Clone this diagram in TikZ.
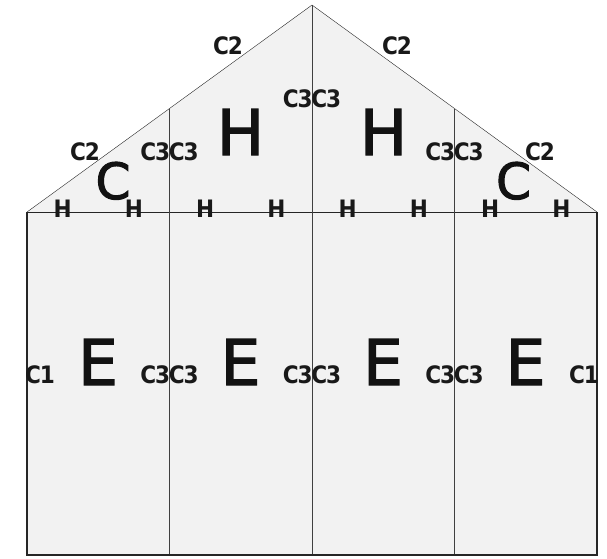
\documentclass[tikz,border=0pt]{standalone}
\usepackage{fontspec}
\setmainfont{DejaVu Sans}
\newfontfamily\tagfont[LetterSpace=-5]{DejaVu Sans Condensed}
\newfontfamily\zonefont[FakeBold=2]{DejaVu Sans}
\usepackage{tikz}
\usetikzlibrary{calc}

\begin{document}
\begin{tikzpicture}[x=1pt,y=-1pt]
  \tikzstyle{tag}=[inner sep=0pt,anchor=base,text=black!90,font=\tagfont\bfseries\fontsize{24pt}{24pt}\selectfont]
  \tikzstyle{zone}=[inner sep=0pt,anchor=base,text=black!93,font=\zonefont\fontsize{63pt}{63pt}\selectfont]
  \tikzstyle{gable}=[inner sep=0pt,anchor=base,text=black!93,font=\zonefont\fontsize{50pt}{50pt}\selectfont]
  \useasboundingbox (0,0) rectangle (607,558);

  \coordinate (BL) at (27,555);
  \coordinate (BR) at (597,555);
  \coordinate (EL) at (27,212);
  \coordinate (ER) at (597,212);
  \coordinate (TP) at (312,5);
  \coordinate (RL) at ($(EL)!0.5!(TP)$);
  \coordinate (RR) at ($(ER)!0.5!(TP)$);
  \coordinate (W1) at (169.5,555);
  \coordinate (W2) at (312,555);
  \coordinate (W3) at (454.5,555);

  \draw[black!85,fill=black!5] (BL) -- (EL) -- (TP) -- (ER) -- (BR) -- cycle;
  \draw[black!85] (EL) -- (ER);
  \draw[black!75] (W1) -- (RL);
  \draw[black!75] (W2) -- (TP);
  \draw[black!75] (W3) -- (RR);
  \draw[black!85,line width=1.6pt] (EL) -- (BL) -- (BR) -- (ER);

  \node[tag] (c2a) at (228,54) {C2};
  \node[tag] (c2b) at (397,54) {C2};
  \node[tag] (c2c) at (85,160) {C2};
  \node[tag] (c2d) at (540,160) {C2};
  \node[tag] (c3a) at (169.5,160) {C3C3};
  \node[tag] (c3b) at (312,107.5) {C3C3};
  \node[tag] (c3c) at (454.5,160) {C3C3};

  \node[zone] (ha) at (240.5,155) {H};
  \node[zone] (hb) at (383.5,155) {H};
  \node[gable] (ca) at (113,199) {C};
  \node[gable] (cb) at (513.5,199) {C};

  \node[tag] (h1) at (62.6,217) {H};
  \node[tag] (h2) at (133.9,217) {H};
  \node[tag] (h3) at (205.1,217) {H};
  \node[tag] (h4) at (276.4,217) {H};
  \node[tag] (h5) at (347.6,217) {H};
  \node[tag] (h6) at (418.9,217) {H};
  \node[tag] (h7) at (490.1,217) {H};
  \node[tag] (h8) at (561.4,217) {H};

  \node[zone] (e1) at (98,385) {E};
  \node[zone] (e2) at (240.5,385) {E};
  \node[zone] (e3) at (383,385) {E};
  \node[zone] (e4) at (525.5,385) {E};

  \node[tag] (c1a) at (40,383) {C1};
  \node[tag] (c1b) at (584,383) {C1};
  \node[tag] (c3d) at (169.5,383) {C3C3};
  \node[tag] (c3e) at (312,383) {C3C3};
  \node[tag] (c3f) at (454.5,383) {C3C3};
\end{tikzpicture}
\end{document}
